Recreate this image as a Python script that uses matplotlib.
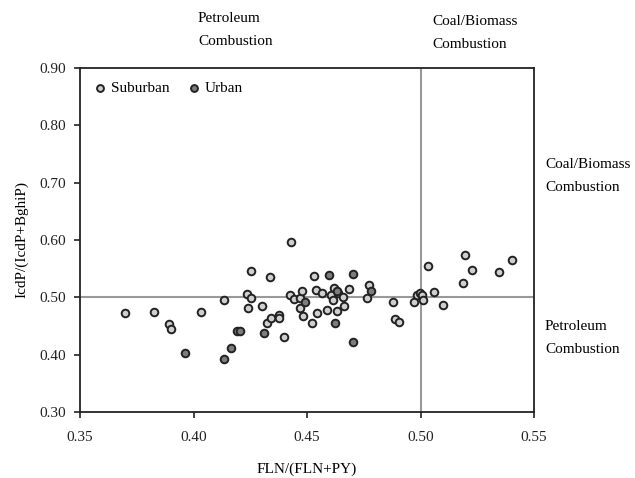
import numpy as np
import matplotlib.pyplot as plt

plt.rcParams['font.family'] = ['Liberation Serif', 'DejaVu Serif']

# suburban sites (light markers)
sub_x = [0.3698, 0.3827, 0.3892, 0.3902, 0.4032, 0.4134, 0.4236, 0.4253, 0.4253, 0.4241,
         0.4302, 0.4338, 0.4322, 0.4341, 0.4377, 0.4377, 0.4430, 0.4397, 0.4425, 0.4443,
         0.4469, 0.4478, 0.4468, 0.4484, 0.4521, 0.4532, 0.4538, 0.4564, 0.4543, 0.4587,
         0.4607, 0.4613, 0.4619, 0.4631, 0.4638, 0.4660, 0.4663, 0.4684, 0.4774, 0.4763,
         0.4877, 0.4888, 0.4904, 0.4973, 0.4983, 0.4998, 0.5005, 0.5012, 0.5033, 0.5059,
         0.5098, 0.5196, 0.5227, 0.5189, 0.5346, 0.5405]
sub_y = [0.4722, 0.4739, 0.4530, 0.4443, 0.4739, 0.4953, 0.5064, 0.4988, 0.5459, 0.4819,
         0.4843, 0.5355, 0.4547, 0.4634, 0.4692, 0.4634, 0.5965, 0.4314, 0.5041, 0.4971,
         0.4983, 0.5105, 0.4819, 0.4674, 0.4547, 0.5378, 0.5122, 0.5081, 0.4722, 0.4779,
         0.5041, 0.4953, 0.5163, 0.4767, 0.5075, 0.5012, 0.4849, 0.5146, 0.5210, 0.4988,
         0.4913, 0.4617, 0.4570, 0.4913, 0.5041, 0.5081, 0.5041, 0.4953, 0.5547, 0.5099,
         0.4866, 0.5738, 0.5477, 0.5255, 0.5442, 0.5651]

# urban sites (dark markers)
urb_x = [0.3963, 0.4134, 0.4167, 0.4190, 0.4204, 0.4312, 0.4490, 0.4597, 0.4623, 0.4704,
         0.4704, 0.4781, 0.4631]
urb_y = [0.4034, 0.3930, 0.4122, 0.4420, 0.4420, 0.4373, 0.4913, 0.5396, 0.4547, 0.5402,
         0.4227, 0.5105, 0.5116]

fig = plt.figure(figsize=(6.35, 4.78), dpi=100)
ax = fig.add_axes([0.126, 0.138, 0.715, 0.72])

ax.axhline(0.50, color='#999999', lw=1.5, zorder=1)
ax.axvline(0.50, color='#999999', lw=1.5, zorder=1)

ax.scatter(sub_x, sub_y, s=30, facecolor='#cfcfcf', edgecolor='#222222', linewidth=1.4,
           zorder=3, label='Suburban')
ax.scatter(urb_x, urb_y, s=30, facecolor='#7d7d7d', edgecolor='#222222', linewidth=1.4,
           zorder=3, label='Urban')

ax.set_xlim(0.35, 0.55)
ax.set_ylim(0.30, 0.90)
ax.set_xticks(np.arange(0.35, 0.551, 0.05))
ax.set_yticks(np.arange(0.30, 0.901, 0.10))
ax.set_xticklabels(['%.2f' % v for v in np.arange(0.35, 0.551, 0.05)], fontsize=11)
ax.set_yticklabels(['%.2f' % v for v in np.arange(0.30, 0.901, 0.10)], fontsize=11)
ax.tick_params(direction='out', length=4, width=1.2, colors='#222222', pad=10)
ax.tick_params(axis='y', pad=6)
for sp in ax.spines.values():
    sp.set_linewidth(1.3)
    sp.set_color('#222222')

ax.set_xlabel('FLN/(FLN+PY)', fontsize=11, labelpad=13)
ax.set_ylabel('IcdP/(IcdP+BghiP)', fontsize=11, labelpad=8)

ax.legend(loc='upper left', ncol=2, frameon=False, fontsize=11, handlelength=0.8,
          handletextpad=0.3, columnspacing=1.2, borderaxespad=0.5, borderpad=0.4,
          markerscale=0.9)

fig.text(198 / 635, 1 - 30 / 478, 'Petroleum\nCombustion', fontsize=11, ha='left', va='center',
         linespacing=2.0)
fig.text(432 / 635, 1 - 33 / 478, 'Coal/Biomass\nCombustion', fontsize=11, ha='left', va='center',
         linespacing=2.0)
fig.text(545 / 635, 1 - 176 / 478, 'Coal/Biomass\nCombustion', fontsize=11, ha='left', va='center',
         linespacing=2.0)
fig.text(545 / 635, 1 - 338 / 478, 'Petroleum\nCombustion', fontsize=11, ha='left', va='center',
         linespacing=2.0)

fig.savefig('out.png', dpi=100)
